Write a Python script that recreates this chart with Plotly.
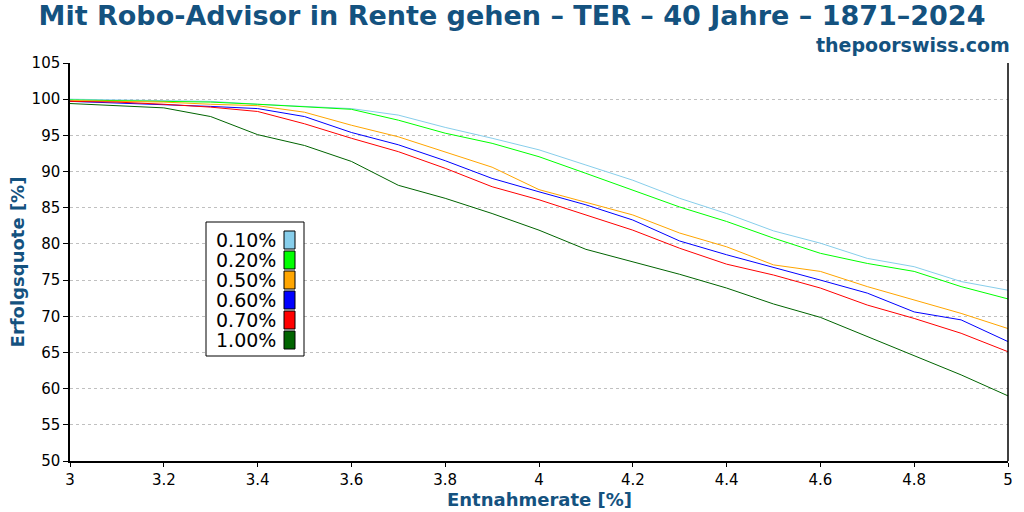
import plotly.graph_objects as go

rates = [3.0, 3.1, 3.2, 3.3, 3.4, 3.5, 3.6, 3.7, 3.8, 3.9, 4.0,
         4.1, 4.2, 4.3, 4.4, 4.5, 4.6, 4.7, 4.8, 4.9, 5.0]

ter_010 = [100.0, 99.9, 99.8, 99.7, 99.3, 99.0, 98.7, 97.8, 96.1, 94.6, 93.0,
           90.9, 88.8, 86.3, 84.2, 81.8, 80.1, 78.0, 76.85, 74.8, 73.6]
ter_020 = [99.9, 99.8, 99.7, 99.6, 99.3, 99.0, 98.6, 97.1, 95.3, 93.9, 92.05,
           89.75, 87.45, 85.1, 83.1, 80.8, 78.7, 77.3, 76.2, 74.1, 72.4]
ter_050 = [99.8, 99.7, 99.6, 99.3, 99.1, 98.2, 96.4, 94.8, 92.75, 90.6, 87.5,
           85.8, 84.0, 81.5, 79.6, 77.1, 76.2, 74.1, 72.25, 70.4, 68.3]
ter_060 = [99.7, 99.5, 99.3, 99.0, 98.7, 97.6, 95.4, 93.7, 91.5, 89.05, 87.2,
           85.4, 83.3, 80.4, 78.5, 76.8, 75.0, 73.2, 70.6, 69.5, 66.5]
ter_070 = [99.7, 99.6, 99.3, 98.9, 98.3, 96.6, 94.6, 92.75, 90.45, 87.9, 86.1,
           84.0, 81.9, 79.4, 77.2, 75.7, 73.9, 71.55, 69.7, 67.65, 65.1]
ter_100 = [99.4, 99.1, 98.8, 97.6, 95.1, 93.6, 91.4, 88.1, 86.3, 84.2, 81.9,
           79.25, 77.5, 75.8, 73.9, 71.7, 69.85, 67.2, 64.6, 61.9, 59.0]

series_names = ["0.10%", "0.20%", "0.50%", "0.60%", "0.70%", "1.00%"]
series_values = [ter_010, ter_020, ter_050, ter_060, ter_070, ter_100]
series_colors = ["#87CEEB", "#00FF00", "#FFA500", "#0000FF", "#FF0000", "#006400"]

x_ticks = [3, 3.2, 3.4, 3.6, 3.8, 4, 4.2, 4.4, 4.6, 4.8, 5]
x_tick_labels = ["3", "3.2", "3.4", "3.6", "3.8", "4", "4.2", "4.4", "4.6", "4.8", "5"]
y_ticks = [50, 55, 60, 65, 70, 75, 80, 85, 90, 95, 100, 105]

title_text = "Mit Robo-Advisor in Rente gehen – TER – 40 Jahre – 1871–2024"
subtitle_text = "thepoorswiss.com"
x_title = "Entnahmerate [%]"
y_title = "Erfolgsquote [%]"

BLUE = "#14527f"
FONT = "DejaVu Sans"

fig = go.Figure()
for name, vals, col in zip(series_names, series_values, series_colors):
    fig.add_trace(go.Scatter(x=rates, y=vals, mode="lines", name=name,
                             line=dict(color=col, width=1), showlegend=False))

W, H = 1024, 512
L, R, T, B = 70, 16, 63, 51
pw, ph = W - L - R, H - T - B


def px_x(px):
    return (px - L) / pw


def px_y(py):
    return (H - B - py) / ph


shapes = []
annotations = []

# custom legend box (text left of colour swatch)
shapes.append(dict(type="rect", xref="paper", yref="paper",
                   x0=px_x(206), x1=px_x(304), y0=px_y(356), y1=px_y(222),
                   line=dict(color="black", width=1), fillcolor="white", layer="above"))
for i, (name, col) in enumerate(zip(series_names, series_colors)):
    cy = 240 + i * 20
    shapes.append(dict(type="rect", xref="paper", yref="paper",
                       x0=px_x(284), x1=px_x(295), y0=px_y(cy + 9), y1=px_y(cy - 9),
                       line=dict(color="black", width=1), fillcolor=col, layer="above"))
    annotations.append(dict(xref="paper", yref="paper", x=px_x(278), y=px_y(cy),
                            text=name, showarrow=False, xanchor="right", yanchor="middle",
                            height=20, valign="middle",
                            font=dict(family=FONT, size=19, color="black")))

# right border
shapes.append(dict(type="line", xref="paper", yref="paper", x0=1, x1=1, y0=0, y1=1,
                   line=dict(color="black", width=1.5)))

annotations.append(dict(xref="paper", yref="paper", x=px_x(1012), y=px_y(45),
                        text="<b>" + subtitle_text + "</b>", showarrow=False,
                        xanchor="right", yanchor="middle",
                        font=dict(family=FONT, size=19, color=BLUE)))

# x-axis title
annotations.append(dict(xref="paper", yref="paper", x=px_x(539), y=px_y(499),
                        text="<b>" + x_title + "</b>", showarrow=False,
                        xanchor="center", yanchor="middle", height=18, valign="middle",
                        font=dict(family=FONT, size=18, color=BLUE)))

fig.update_layout(
    width=W, height=H,
    margin=dict(l=L, r=R, t=T, b=B, autoexpand=False),
    paper_bgcolor="white", plot_bgcolor="white",
    title=dict(text="<b>" + title_text + "</b>", x=0.5, xanchor="center",
               y=1 - 16 / H, yanchor="middle", yref="container",
               font=dict(family=FONT, size=27, color=BLUE)),
    shapes=shapes, annotations=annotations,
    xaxis=dict(range=[3, 5], tickvals=x_ticks, ticktext=x_tick_labels,
               showgrid=False, zeroline=False, showline=True, linecolor="black",
               linewidth=1.5, ticks="outside", ticklen=4, tickcolor="black",
               automargin=False,
               tickfont=dict(family=FONT, size=15, color="black")),
    yaxis=dict(range=[50, 105], tickvals=y_ticks,
               showgrid=True, gridcolor="#c0c0c0", griddash="dot", gridwidth=1,
               zeroline=False, showline=True, linecolor="black", linewidth=1.5,
               ticks="outside", ticklen=5, tickcolor="black",
               automargin=False,
               tickfont=dict(family=FONT, size=15, color="black"),
               title=dict(text="<b>" + y_title + "</b>", standoff=2,
                          font=dict(family=FONT, size=18, color=BLUE))),
)

fig.write_html("out.html")
